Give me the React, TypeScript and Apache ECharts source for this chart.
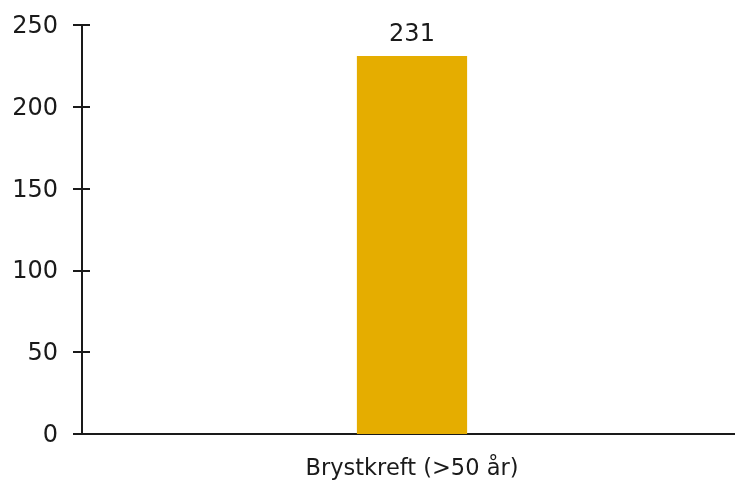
import React, { useEffect, useRef } from "react";
import * as echarts from "echarts";

const categories = ["Brystkreft (>50 år)"];
const values = [231];
const yTicks = [0, 50, 100, 150, 200, 250];

export default function App() {
  const ref = useRef<HTMLDivElement>(null);
  useEffect(() => {
    if (!ref.current) return;
    const chart = echarts.init(ref.current, undefined, { renderer: "svg" });
    const font = "'DejaVu Sans', sans-serif";
    const yMin = yTicks[0];
    const yMax = yTicks[yTicks.length - 1];
    const interval = yTicks[1] - yTicks[0];
    chart.setOption({
      animation: false,
      grid: { left: 82, right: 0, top: 25, bottom: 50, containLabel: false },
      xAxis: {
        type: "category",
        data: categories,
        axisLine: { lineStyle: { color: "#1a1a1a", width: 2 } },
        axisTick: { show: false },
        axisLabel: { color: "#1a1a1a", fontSize: 22.5, fontFamily: font, margin: 21 },
      },
      yAxis: [
        {
          type: "value",
          min: yMin,
          max: yMax,
          interval,
          axisLine: { show: true, lineStyle: { color: "#1a1a1a", width: 2 } },
          axisTick: { show: true, length: 9, lineStyle: { color: "#1a1a1a", width: 2 } },
          axisLabel: { color: "#1a1a1a", fontSize: 24, fontFamily: font, margin: 24 },
          splitLine: { show: false },
        },
        {
          type: "value",
          position: "left",
          min: yMin,
          max: yMax,
          interval,
          axisLine: { show: false },
          axisTick: { show: true, inside: true, length: 8, lineStyle: { color: "#1a1a1a", width: 2 } },
          axisLabel: { show: false },
          splitLine: { show: false },
        },
      ],
      series: [
        {
          type: "bar",
          data: values,
          barWidth: "16.7%",
          itemStyle: { color: "#E5AD00" },
          label: {
            show: true,
            position: "top",
            distance: 11,
            color: "#1a1a1a",
            fontSize: 24,
            fontFamily: font,
          },
        },
      ],
    });
    return () => chart.dispose();
  }, []);
  return (
    <div
      ref={ref}
      style={{ position: "fixed", left: 0, top: 0, width: 742, height: 484 }}
    />
  );
}
